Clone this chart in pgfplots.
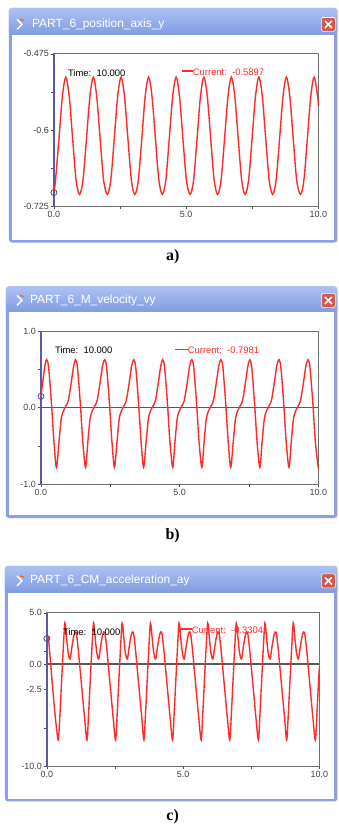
\documentclass[border=0pt]{standalone}
\usepackage{pgfplots}
\pgfplotsset{compat=1.18}
\usepackage{fontspec}
\setmainfont{Liberation Serif}
\setsansfont{Liberation Sans}
\definecolor{plotred}{HTML}{FF2A2A}
\definecolor{winborder}{HTML}{8C9EE6}
\definecolor{titletop}{HTML}{AEC1F3}
\definecolor{titlebot}{HTML}{7F9BE2}
\definecolor{axblue}{HTML}{5A5AAA}
\definecolor{axgray}{HTML}{707070}
\definecolor{closered}{HTML}{D0584E}
\definecolor{circblue}{HTML}{4848A0}
\pgfplotsset{
  winaxis/.style={
    scale only axis, xmin=0, xmax=10, clip=false,
    axis line style={axgray, line width=1.1bp},
    tick align=outside, tick pos=left, major tick length=2.5bp,
    tick style={black!70, line width=0.6bp},
    xtick={0,2.5,5,7.5,10}, xticklabels={0.0,,5.0,,10.0},
    ticklabel style={font=\sffamily\fontsize{9}{10}\selectfont, text=black!75},
    yticklabel style={xshift=1bp},
    xticklabel style={yshift=1bp},
  },
  redcurve/.style={draw=plotred, line width=1.4bp, smooth, tension=0.5, no markers},
  blueaxis/.style={draw=axblue, line width=1.3bp, no markers},
  startcirc/.style={only marks, mark=o, mark size=3bp, mark options={draw=circblue, line width=0.8bp}},
}
\newcommand{\window}[5]{% x1, y1(bottom), x2, ybar, ytop
  \fill[winborder, rounded corners=3bp] (#1,#2) rectangle (#3,#5);
  \shade[top color=titletop, bottom color=titlebot, rounded corners=3bp] (#1,#4) rectangle (#3,#5);
  \fill[white] ({#1+3},{#2+3}) rectangle ({#3-3},#4);
}
\newcommand{\titleicons}[1]{% y centre
  \draw[white, line width=1.4bp] (17,{#1+5}) -- (22,#1) -- (17,{#1-5});
  \draw[orange!80!red, line width=1.2bp] (20,{#1+5}) -- (24,{#1+4});
  \fill[closered, rounded corners=1.5bp] (322,{#1-7}) rectangle (336,{#1+7});
  \draw[white, line width=0.6bp, rounded corners=1.5bp] (322,{#1-7}) rectangle (336,{#1+7});
  \draw[white, line width=1.6bp] (325.5,{#1-3.5}) -- (332.5,{#1+3.5}) (325.5,{#1+3.5}) -- (332.5,{#1-3.5});
}
\newcommand{\legendtext}[6]{% timex, timey, linex1, linex2, liney, current
  \node[anchor=west, inner sep=0, text=black, font=\sffamily\fontsize{9.5}{11}\selectfont] at (#1,#2) {Time:\ \ 10.000};
  \fill[plotred] (#3,{#5-0.7}) rectangle (#4,{#5+0.7});
  \node[anchor=west, inner sep=0, text=plotred, font=\sffamily\fontsize{9.5}{11}\selectfont] at (#4,{#5-1}) {Current:\ \ #6};
}
\begin{document}
\begin{tikzpicture}
\begin{scope}[x=1bp,y=1bp]
\path[use as bounding box, fill=white] (0,0) rectangle (339,827);
\window{9}{584}{338}{792}{819}
\titleicons{802.5}
\node[anchor=west, inner sep=0, text=white, font=\sffamily\fontsize{12}{14}\selectfont] at (32,803) {PART\_6\_position\_axis\_y};
\window{6}{308}{338}{514}{540}
\titleicons{526}
\node[anchor=west, inner sep=0, text=white, font=\sffamily\fontsize{12}{14}\selectfont] at (30,526) {PART\_6\_M\_velocity\_vy};
\window{5}{24}{338}{233}{260}
\titleicons{245}
\node[anchor=west, inner sep=0, text=white, font=\sffamily\fontsize{12}{14}\selectfont] at (30,245) {PART\_6\_CM\_acceleration\_ay};
\end{scope}

% ---------------- axis a ----------------
\begin{axis}[winaxis, at={(54bp,620bp)}, anchor=south west, width=265bp, height=153bp,
  ymin=-0.725, ymax=-0.475,
  ytick={-0.725,-0.6625,-0.6,-0.5375,-0.475}, yticklabels={-0.725,,-0.6,,-0.475}]
\addplot[blueaxis] coordinates {(0,-0.725)(0,-0.475)};
\addplot[redcurve] coordinates {
(0,-0.702)(0.06,-0.682)(0.19,-0.615)(0.32,-0.545)(0.45,-0.513)(0.58,-0.545)(0.71,-0.615)(0.84,-0.682)(0.97,-0.705)
(1.10,-0.682)(1.23,-0.615)(1.36,-0.545)(1.49,-0.513)(1.62,-0.545)(1.75,-0.615)(1.88,-0.682)(2.02,-0.705)
(2.15,-0.682)(2.28,-0.615)(2.41,-0.545)(2.54,-0.513)(2.67,-0.545)(2.80,-0.615)(2.93,-0.682)(3.06,-0.705)
(3.19,-0.682)(3.32,-0.615)(3.45,-0.545)(3.58,-0.513)(3.71,-0.545)(3.84,-0.615)(3.97,-0.682)(4.10,-0.705)
(4.23,-0.682)(4.36,-0.615)(4.49,-0.545)(4.62,-0.513)(4.75,-0.545)(4.88,-0.615)(5.01,-0.682)(5.15,-0.705)
(5.28,-0.682)(5.41,-0.615)(5.54,-0.545)(5.67,-0.513)(5.80,-0.545)(5.93,-0.615)(6.06,-0.682)(6.19,-0.705)
(6.32,-0.682)(6.45,-0.615)(6.58,-0.545)(6.71,-0.513)(6.84,-0.545)(6.97,-0.615)(7.10,-0.682)(7.23,-0.705)
(7.36,-0.682)(7.49,-0.615)(7.62,-0.545)(7.75,-0.513)(7.88,-0.545)(8.01,-0.615)(8.14,-0.682)(8.27,-0.705)
(8.40,-0.682)(8.53,-0.615)(8.66,-0.545)(8.79,-0.513)(8.92,-0.545)(9.05,-0.615)(9.18,-0.682)(9.32,-0.705)
(9.45,-0.682)(9.58,-0.615)(9.71,-0.545)(9.84,-0.513)(9.97,-0.545)(10.0,-0.56)};
\addplot[startcirc] coordinates {(0,-0.702)};
\end{axis}

% ---------------- axis b ----------------
\begin{axis}[winaxis, at={(41bp,342bp)}, anchor=south west, width=278bp, height=153bp,
  ymin=-1, ymax=1,
  ytick={-1,-0.5,0,0.5,1}, yticklabels={-1.0,,0.0,,1.0}]
\addplot[blueaxis] coordinates {(0,-1)(0,1)};
\addplot[draw=black!65, line width=1.2bp, no markers] coordinates {(0,0)(10,0)};
\addplot[redcurve] coordinates {
(0,0.15)(0.08,0.38)(0.15,0.57)
(0.21,0.63)(0.27,0.55)(0.33,0.30)(0.39,0.0)(0.47,-0.45)(0.56,-0.78)(0.65,-0.45)(0.73,-0.15)(0.81,-0.04)(0.91,0.03)(0.99,0.10)(1.10,0.35)(1.18,0.55)
(1.25,0.63)(1.31,0.55)(1.37,0.30)(1.43,0.0)(1.51,-0.45)(1.61,-0.78)(1.69,-0.45)(1.77,-0.15)(1.85,-0.04)(1.95,0.03)(2.03,0.10)(2.14,0.35)(2.22,0.55)
(2.30,0.63)(2.36,0.55)(2.42,0.30)(2.48,0.0)(2.56,-0.45)(2.65,-0.78)(2.74,-0.45)(2.82,-0.15)(2.90,-0.04)(3.00,0.03)(3.08,0.10)(3.19,0.35)(3.27,0.55)
(3.35,0.63)(3.41,0.55)(3.47,0.30)(3.53,0.0)(3.61,-0.45)(3.70,-0.78)(3.79,-0.45)(3.87,-0.15)(3.95,-0.04)(4.05,0.03)(4.13,0.10)(4.24,0.35)(4.32,0.55)
(4.39,0.63)(4.45,0.55)(4.51,0.30)(4.57,0.0)(4.65,-0.45)(4.75,-0.78)(4.83,-0.45)(4.91,-0.15)(4.99,-0.04)(5.09,0.03)(5.17,0.10)(5.28,0.35)(5.36,0.55)
(5.44,0.63)(5.50,0.55)(5.56,0.30)(5.62,0.0)(5.70,-0.45)(5.80,-0.78)(5.88,-0.45)(5.96,-0.15)(6.04,-0.04)(6.14,0.03)(6.22,0.10)(6.33,0.35)(6.41,0.55)
(6.49,0.63)(6.55,0.55)(6.61,0.30)(6.67,0.0)(6.75,-0.45)(6.84,-0.78)(6.93,-0.45)(7.01,-0.15)(7.09,-0.04)(7.19,0.03)(7.27,0.10)(7.38,0.35)(7.46,0.55)
(7.53,0.63)(7.59,0.55)(7.65,0.30)(7.71,0.0)(7.79,-0.45)(7.89,-0.78)(7.97,-0.45)(8.05,-0.15)(8.13,-0.04)(8.23,0.03)(8.31,0.10)(8.42,0.35)(8.50,0.55)
(8.58,0.63)(8.64,0.55)(8.70,0.30)(8.76,0.0)(8.84,-0.45)(8.94,-0.78)(9.02,-0.45)(9.10,-0.15)(9.18,-0.04)(9.28,0.03)(9.36,0.10)(9.47,0.35)(9.55,0.55)
(9.63,0.63)(9.69,0.55)(9.75,0.30)(9.81,0.0)(9.89,-0.45)(10.0,-0.7981)};
\addplot[startcirc] coordinates {(0,0.15)};
\end{axis}

% ---------------- axis c ----------------
\begin{axis}[winaxis, at={(47bp,59bp)}, anchor=south west, width=273bp, height=154bp,
  ymin=-10, ymax=5,
  ytick={-10,-6.25,-2.5,0,1.25,5}, yticklabels={-10.0,,-2.5,0.0,,5.0}]
\addplot[blueaxis] coordinates {(0,-10)(0,5)};
\addplot[draw=black!65, line width=1.2bp, no markers] coordinates {(0,0)(10,0)};
\addplot[redcurve] coordinates {
(0,2.5)(0.05,2.6)(0.12,0.6)(0.20,-2.0)(0.28,-4.4)(0.35,-6.2)
(0.42,-7.4)(0.48,-4.8)(0.54,-1.6)(0.60,1.5)(0.66,4.0)(0.72,2.6)(0.78,1.1)(0.85,0.5)(0.92,1.7)(1.00,2.9)(1.07,3.1)(1.14,1.7)(1.22,-0.6)(1.30,-2.9)(1.38,-5.2)
(1.47,-7.4)(1.53,-4.8)(1.59,-1.6)(1.65,1.5)(1.71,4.0)(1.77,2.6)(1.83,1.1)(1.90,0.5)(1.97,1.7)(2.05,2.9)(2.12,3.1)(2.19,1.7)(2.27,-0.6)(2.35,-2.9)(2.43,-5.2)
(2.52,-7.4)(2.58,-4.8)(2.64,-1.6)(2.70,1.5)(2.76,4.0)(2.82,2.6)(2.88,1.1)(2.95,0.5)(3.02,1.7)(3.10,2.9)(3.17,3.1)(3.24,1.7)(3.32,-0.6)(3.40,-2.9)(3.48,-5.2)
(3.56,-7.4)(3.62,-4.8)(3.68,-1.6)(3.74,1.5)(3.80,4.0)(3.86,2.6)(3.92,1.1)(3.99,0.5)(4.06,1.7)(4.14,2.9)(4.21,3.1)(4.28,1.7)(4.36,-0.6)(4.44,-2.9)(4.52,-5.2)
(4.61,-7.4)(4.67,-4.8)(4.73,-1.6)(4.79,1.5)(4.85,4.0)(4.91,2.6)(4.97,1.1)(5.04,0.5)(5.11,1.7)(5.19,2.9)(5.26,3.1)(5.33,1.7)(5.41,-0.6)(5.49,-2.9)(5.57,-5.2)
(5.66,-7.4)(5.72,-4.8)(5.78,-1.6)(5.84,1.5)(5.90,4.0)(5.96,2.6)(6.02,1.1)(6.09,0.5)(6.16,1.7)(6.24,2.9)(6.31,3.1)(6.38,1.7)(6.46,-0.6)(6.54,-2.9)(6.62,-5.2)
(6.71,-7.4)(6.77,-4.8)(6.83,-1.6)(6.89,1.5)(6.95,4.0)(7.01,2.6)(7.07,1.1)(7.14,0.5)(7.21,1.7)(7.29,2.9)(7.36,3.1)(7.43,1.7)(7.51,-0.6)(7.59,-2.9)(7.67,-5.2)
(7.76,-7.4)(7.82,-4.8)(7.88,-1.6)(7.94,1.5)(8.00,4.0)(8.06,2.6)(8.12,1.1)(8.19,0.5)(8.26,1.7)(8.34,2.9)(8.41,3.1)(8.48,1.7)(8.56,-0.6)(8.64,-2.9)(8.72,-5.2)
(8.80,-7.4)(8.86,-4.8)(8.92,-1.6)(8.98,1.5)(9.04,4.0)(9.10,2.6)(9.16,1.1)(9.23,0.5)(9.30,1.7)(9.38,2.9)(9.45,3.1)(9.52,1.7)(9.60,-0.6)(9.68,-2.9)(9.76,-5.2)
(9.85,-7.4)(9.91,-4.8)(9.97,-1.6)(10.0,-0.33)};
\addplot[startcirc] coordinates {(0,2.5)};
\end{axis}

\begin{scope}[x=1bp,y=1bp]
\legendtext{68}{754}{182}{193}{756}{-0.5897}
\node[font=\bfseries\fontsize{16}{18}\selectfont] at (173,570) {a)};
\legendtext{55}{476}{175}{188}{477}{-0.7981}
\node[font=\bfseries\fontsize{16}{18}\selectfont] at (173,290) {b)};
\legendtext{63}{194}{180}{192}{197}{-0.3304}
\node[font=\bfseries\fontsize{16}{18}\selectfont] at (173,9) {c)};
\end{scope}
\end{tikzpicture}
\end{document}
